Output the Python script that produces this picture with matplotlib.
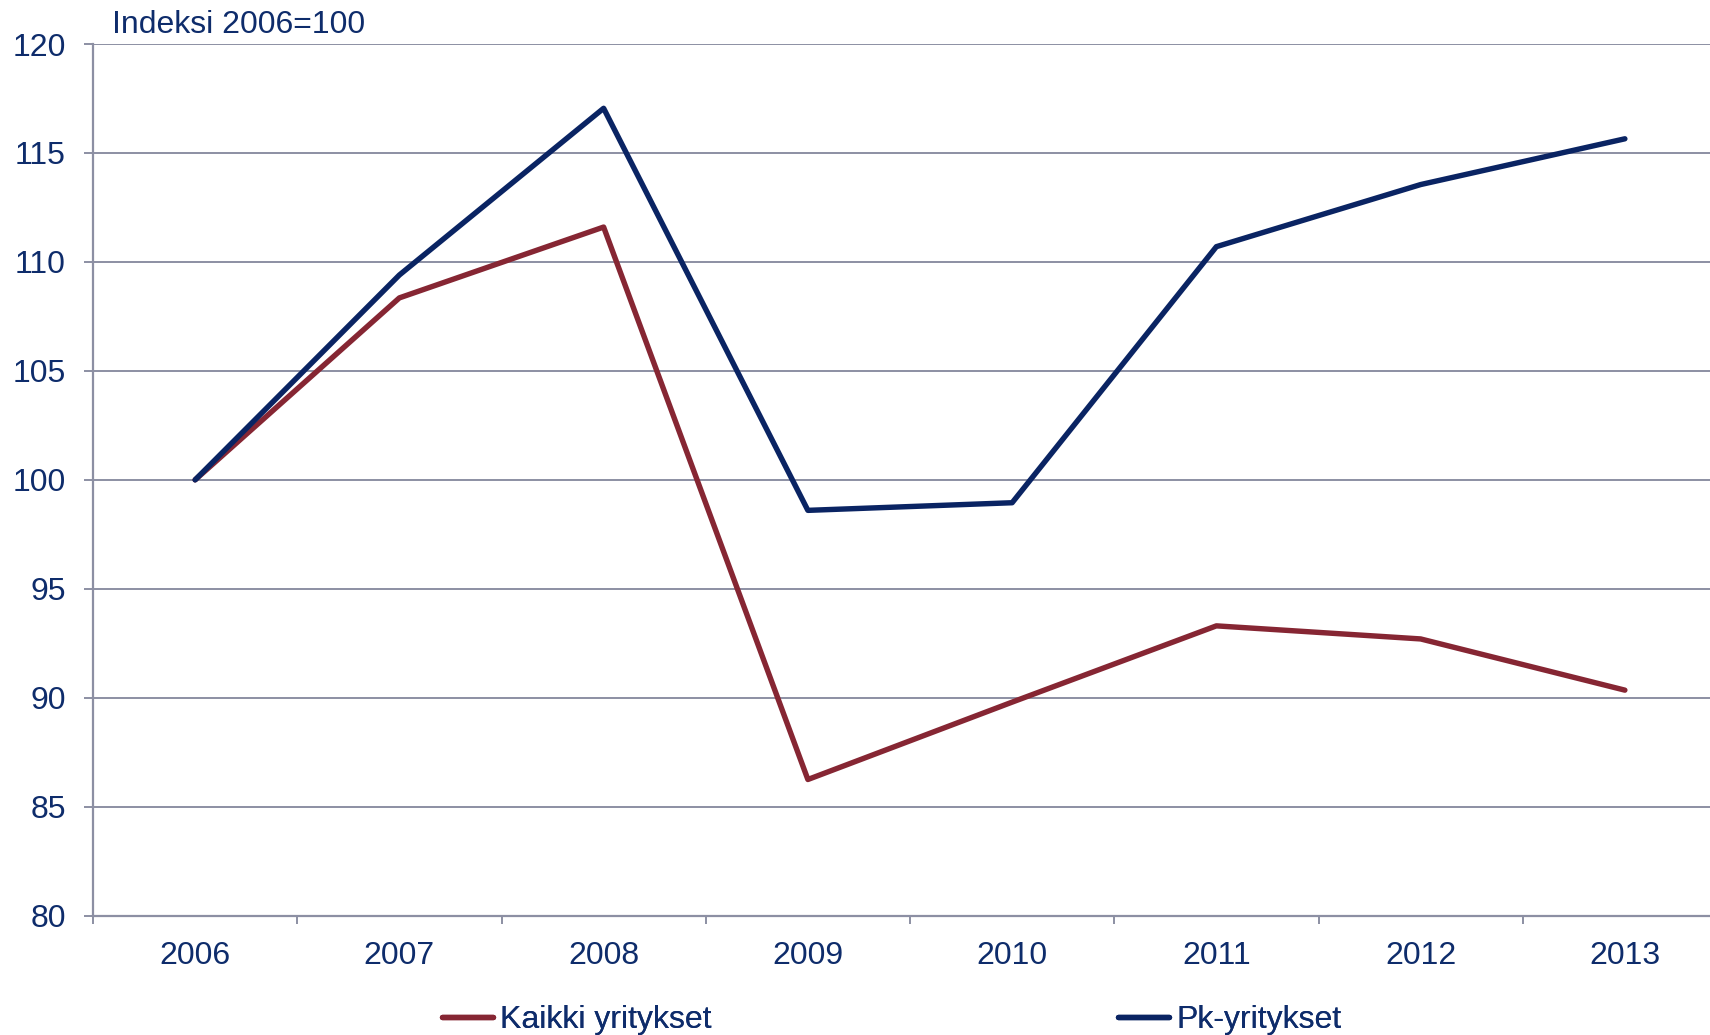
import matplotlib
matplotlib.use("Agg")
import matplotlib.pyplot as plt

years = ["2006", "2007", "2008", "2009", "2010", "2011", "2012", "2013"]
kaikki = [100.0, 108.35, 111.6, 86.25, 89.8, 93.3, 92.7, 90.35]
pk = [100.0, 109.4, 117.05, 98.6, 98.95, 110.7, 113.55, 115.65]
series_names = ["Kaikki yritykset", "Pk-yritykset"]
yticks = [80, 85, 90, 95, 100, 105, 110, 115, 120]
unit_label = "Indeksi 2006=100"

TEXT = "#0E2C6B"
GRID = "#8C8FA3"
RED = "#862633"
BLUE = "#0A2463"
FS = 23

plt.rcParams["font.family"] = ["Liberation Sans", "DejaVu Sans"]

fig = plt.figure(figsize=(17.1, 10.35), dpi=100)
ax = fig.add_axes([93 / 1710, 119.3 / 1035, (1727 - 93) / 1710, (915.7 - 44) / 1035])

x = list(range(len(years)))
l1, = ax.plot(x, kaikki, color=RED, lw=3.9, solid_capstyle="round", solid_joinstyle="round", zorder=3)
l2, = ax.plot(x, pk, color=BLUE, lw=3.9, solid_capstyle="round", solid_joinstyle="round", zorder=3)

ax.set_xlim(-0.5, len(years) - 0.5)
ax.set_ylim(80, 120)
ax.set_yticks(yticks)
ax.set_yticklabels([str(v) for v in yticks])
ax.set_xticks(x)
ax.set_xticklabels(years)
ax.set_xticks([i - 0.5 for i in range(len(years) + 1)], minor=True)

ax.grid(axis="y", color=GRID, lw=1.4, zorder=1)
ax.set_axisbelow(True)
for s in ["top", "right"]:
    ax.spines[s].set_visible(False)
for s in ["left", "bottom"]:
    ax.spines[s].set_color(GRID)
    ax.spines[s].set_linewidth(1.6)

ax.tick_params(axis="y", which="major", length=6.5, width=1.4, color=GRID, pad=13,
               labelsize=FS, labelcolor=TEXT)
ax.tick_params(axis="x", which="major", length=0, pad=18, labelsize=FS, labelcolor=TEXT)
ax.tick_params(axis="x", which="minor", length=6, width=1.4, color=GRID, direction="out")

fig.text(112 / 1710, 1 - 25 / 1035, unit_label, fontsize=FS, color=TEXT, va="center", ha="left")

legend_font = {"family": ["Liberation Sans Narrow", "Liberation Sans"], "size": FS}
for handle, name, xpos in [(l1, series_names[0], 442), (l2, series_names[1], 1118)]:
    leg = fig.legend([handle], [name], loc="center left",
                     bbox_to_anchor=(xpos / 1710, 1 - 1020 / 1035), frameon=False,
                     prop=legend_font, handlelength=1.6, handletextpad=0.22,
                     borderpad=0, borderaxespad=0)
    for t in leg.get_texts():
        t.set_color(TEXT)
    fig.add_artist(leg)

fig.savefig("out.png", dpi=100)
